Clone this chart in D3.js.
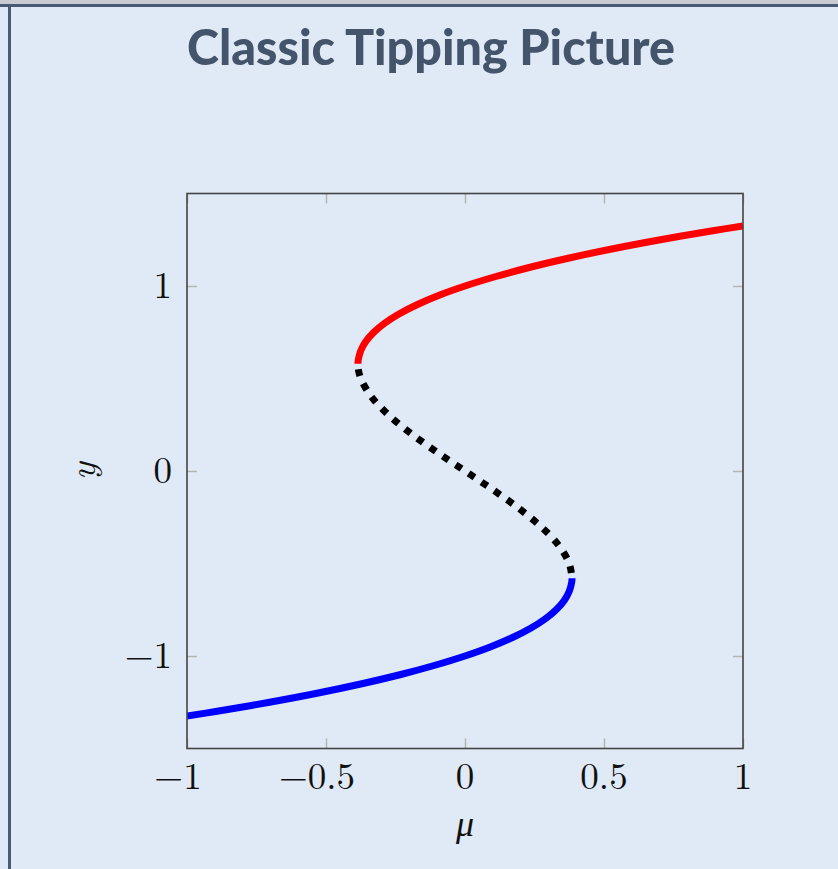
<!DOCTYPE html>
<html>
<head>
<meta charset="utf-8">
<script src="https://cdn.jsdelivr.net/npm/d3@7"></script>
<style>
  body { margin: 0; background: #dfeaf6; }
  svg { display: block; }
</style>
</head>
<body>
<svg id="chart" width="838" height="869"></svg>
<script>
// data: (mu, y) along each branch
const upperY  = [0.58, 0.60, 0.65, 0.70, 0.75, 0.80, 0.85, 0.90, 0.95, 1.00, 1.05, 1.10, 1.15, 1.20, 1.25, 1.30, 1.325];
const upperMu = [-0.385, -0.384, -0.375, -0.357, -0.328, -0.288, -0.236, -0.171, -0.093, 0.0, 0.108, 0.231, 0.371, 0.528, 0.703, 0.897, 1.0];
const middleY  = [0.55, 0.50, 0.40, 0.30, 0.20, 0.10, 0.0, -0.10, -0.20, -0.30, -0.40, -0.50, -0.58];
const middleMu = [-0.384, -0.375, -0.336, -0.273, -0.192, -0.099, 0.0, 0.099, 0.192, 0.273, 0.336, 0.375, 0.385];
const lowerY  = [-1.325, -1.30, -1.25, -1.20, -1.15, -1.10, -1.05, -1.00, -0.95, -0.90, -0.85, -0.80, -0.75, -0.70, -0.65, -0.60, -0.58];
const lowerMu = [-1.0, -0.897, -0.703, -0.528, -0.371, -0.231, -0.108, 0.0, 0.093, 0.171, 0.236, 0.288, 0.328, 0.357, 0.375, 0.384, 0.385];
const xTicks = [-1, -0.5, 0, 0.5, 1];
const yTicks = [-1, 0, 1];

const svg = d3.select("svg#chart");
const box = { left: 187, right: 743, top: 193.5, bottom: 748.5 };

// page frame
svg.append("rect").attr("x", 0).attr("y", 0).attr("width", 838).attr("height", 4).attr("fill", "#c9cdd3");
svg.append("rect").attr("x", 0).attr("y", 4).attr("width", 838).attr("height", 3).attr("fill", "#4b5a77");
svg.append("rect").attr("x", 8).attr("y", 4).attr("width", 3).attr("height", 865).attr("fill", "#4b5a77");

// title, squeezed to the width it has in the picture
svg.append("text")
    .text("Classic Tipping Picture")
    .attr("x", 431)
    .attr("y", 65)
    .attr("text-anchor", "middle")
    .style("font-family", "Lato, 'Open Sans', sans-serif")
    .style("font-weight", "900")
    .style("font-size", "49px")
    .attr("fill", "#44546a")
    .attr("textLength", 488)
    .attr("lengthAdjust", "spacingAndGlyphs");

// scales
const xScale = d3.scaleLinear().domain([-1, 1]).range([box.left, box.right]);
const yScale = d3.scaleLinear().domain([-1.5, 1.5]).range([box.bottom, box.top]);
const w = box.right - box.left;
const h = box.bottom - box.top;

const tickFont = "'Latin Modern Roman', 'CMU Serif', 'Liberation Serif', serif";
const fmt = (d) => (d < 0 ? "\u2212" : "") + Math.abs(d);

// inner tick marks on all four sides
const tickColor = "#b4b4b4";
svg.append("g").attr("transform", `translate(0,${box.bottom})`)
    .call(d3.axisBottom(xScale).tickValues(xTicks).tickSize(-10).tickFormat(""));
svg.append("g").attr("transform", `translate(0,${box.top})`)
    .call(d3.axisTop(xScale).tickValues(xTicks).tickSize(-10).tickFormat(""));
svg.append("g").attr("transform", `translate(${box.left},0)`)
    .call(d3.axisLeft(yScale).tickValues(yTicks).tickSize(-10).tickFormat(""));
svg.append("g").attr("transform", `translate(${box.right},0)`)
    .call(d3.axisRight(yScale).tickValues(yTicks).tickSize(-10).tickFormat(""));
svg.selectAll(".domain").remove();
svg.selectAll(".tick line").attr("stroke", tickColor).attr("stroke-width", 1.5);

// tick labels
svg.append("g").selectAll("text")
    .data(xTicks)
    .join("text")
    .attr("x", (d) => xScale(d) - (d < 0 ? 9 : 0))
    .attr("y", box.bottom + 40)
    .attr("text-anchor", "middle")
    .style("font-family", tickFont)
    .style("font-size", "37px")
    .attr("fill", "#111")
    .text(fmt);
svg.append("g").selectAll("text")
    .data(yTicks)
    .join("text")
    .attr("x", box.left - 15)
    .attr("y", (d) => yScale(d) + 12)
    .attr("text-anchor", "end")
    .style("font-family", tickFont)
    .style("font-size", "37px")
    .attr("fill", "#111")
    .text(fmt);

// axis titles
svg.append("text")
    .text("\u03bc")
    .attr("x", xScale(0))
    .attr("y", 836)
    .attr("text-anchor", "middle")
    .style("font-family", tickFont)
    .style("font-style", "italic")
    .style("font-size", "36px")
    .attr("fill", "#111");
svg.append("text")
    .text("y")
    .attr("transform", `translate(95,${yScale(0)}) rotate(-90)`)
    .attr("text-anchor", "middle")
    .style("font-family", tickFont)
    .style("font-style", "italic")
    .style("font-size", "37px")
    .attr("fill", "#111");

// curves
svg.append("clipPath").attr("id", "plotclip")
    .append("rect").attr("x", box.left).attr("y", box.top).attr("width", w).attr("height", h);
const line = d3.line()
    .x((d) => xScale(d[0]))
    .y((d) => yScale(d[1]))
    .curve(d3.curveCatmullRom);
const plot = svg.append("g").attr("clip-path", "url(#plotclip)");

plot.append("path")
    .attr("d", line(upperMu.map((m, i) => [m, upperY[i]])))
    .attr("fill", "none")
    .attr("stroke", "#ff0000")
    .attr("stroke-width", 7);
plot.append("path")
    .attr("d", line(middleMu.map((m, i) => [m, middleY[i]])))
    .attr("fill", "none")
    .attr("stroke", "#000")
    .attr("stroke-width", 7)
    .attr("stroke-dasharray", "7,8.5");
plot.append("path")
    .attr("d", line(lowerMu.map((m, i) => [m, lowerY[i]])))
    .attr("fill", "none")
    .attr("stroke", "#0000ff")
    .attr("stroke-width", 7);

// plot frame
svg.append("rect")
    .attr("x", box.left).attr("y", box.top)
    .attr("width", w).attr("height", h)
    .attr("fill", "none")
    .attr("stroke", "#444")
    .attr("stroke-width", 1.6);
</script>
</body>
</html>
